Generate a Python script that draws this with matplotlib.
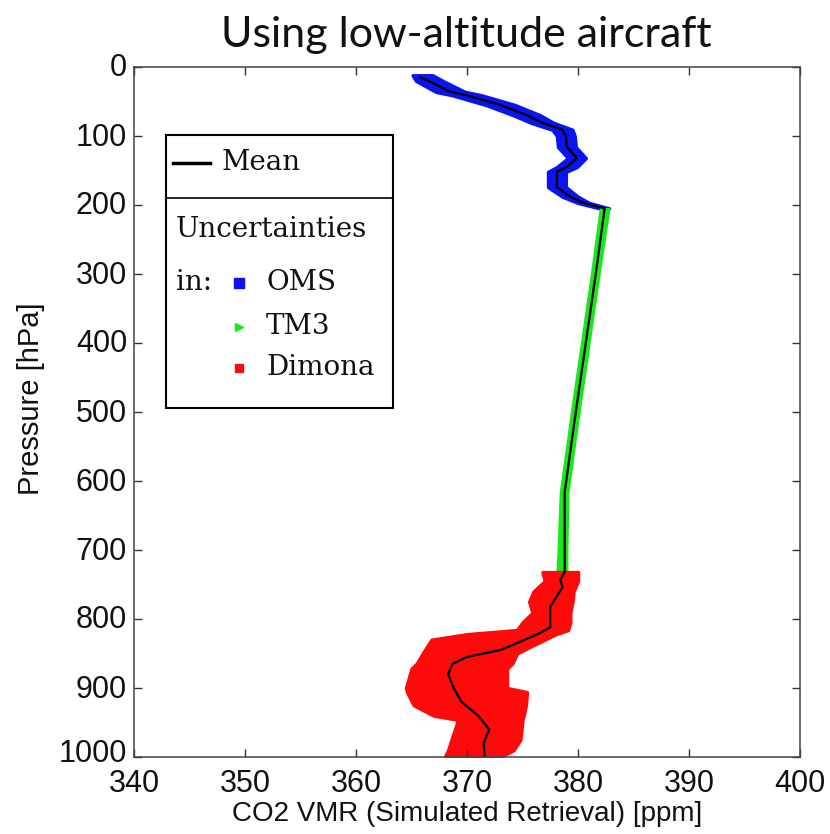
import numpy as np
import matplotlib
matplotlib.use("Agg")
import matplotlib.pyplot as plt
from matplotlib.patches import Rectangle
from matplotlib.lines import Line2D
from matplotlib.transforms import ScaledTranslation

# mean retrieved CO2 profile (pressure in hPa, VMR in ppm)
mean_p = [15, 20, 36, 41, 55, 70, 81, 91, 100, 116, 132, 145, 152, 174, 188, 197, 205,
          300, 400, 500, 616, 700, 732, 743, 754, 782, 812, 820, 833, 845, 855, 865,
          880, 900, 920, 940, 960, 980, 1000]
mean_x = [365.8, 366.5, 368.5, 370.0, 373.0, 375.4, 376.8, 378.6, 378.9, 379.0, 379.9,
          379.0, 378.1, 378.1, 379.3, 380.5, 382.4, 381.6, 380.7, 379.8, 378.8, 378.8,
          378.8, 378.4, 378.6, 377.5, 377.5, 376.6, 374.8, 373.0, 370.0, 368.7, 368.3,
          368.8, 369.5, 371.0, 372.0, 371.5, 371.6]

# OMS uncertainty envelope
oms_p = [12, 20, 36, 41, 55, 70, 81, 91, 100, 116, 132, 145, 152, 174, 188, 197, 205]
oms_lo = [365.1, 365.4, 367.2, 368.7, 371.7, 374.2, 375.8, 377.7, 378.1, 378.2, 379.1,
          378.1, 377.3, 377.3, 378.6, 380.0, 382.0]
oms_hi = [366.9, 367.8, 369.8, 371.3, 374.3, 376.6, 377.8, 379.5, 379.7, 379.8, 380.7,
          379.9, 378.9, 378.9, 380.0, 381.0, 382.8]

# TM3 uncertainty envelope
tm3_p = [205, 300, 400, 500, 616, 700, 735]
tm3_lo = [382.0, 381.2, 380.3, 379.4, 378.4, 378.2, 378.1]
tm3_hi = [382.8, 381.9, 381.0, 380.1, 379.1, 379.0, 379.0]

# Dimona uncertainty envelope
dim_p = [732, 745, 760, 775, 791, 805, 816, 822, 830, 840, 850, 864, 872, 900, 906,
         925, 940, 946, 975, 990, 1000]
dim_lo = [376.8, 377.0, 376.0, 375.6, 375.9, 375.0, 374.5, 370.0, 366.8, 366.4, 366.0,
          365.5, 365.0, 364.5, 364.6, 365.2, 367.0, 369.2, 368.6, 368.3, 368.0]
dim_hi = [380.0, 380.0, 379.6, 379.5, 379.3, 379.3, 379.1, 378.0, 377.0, 375.7, 374.5,
          374.1, 373.6, 373.6, 375.4, 375.3, 375.1, 375.0, 374.8, 374.2, 373.0]

x_ticks = [340, 350, 360, 370, 380, 390, 400]
y_ticks = [0, 100, 200, 300, 400, 500, 600, 700, 800, 900, 1000]

W, H = 830, 834
fig = plt.figure(figsize=(W / 100, H / 100), dpi=100)
ax = fig.add_axes([134 / W, 1 - 757 / H, (800 - 134) / W, (757 - 67) / H])

sans = "Liberation Sans"
serif = "DejaVu Serif"

ax.fill_betweenx(oms_p, oms_lo, oms_hi, color="#0a14f0", lw=2.5, edgecolor="#0a14f0")
ax.fill_betweenx(tm3_p, tm3_lo, tm3_hi, color="#18e818", lw=1.5, edgecolor="#18e818")
ax.fill_betweenx(dim_p, dim_lo, dim_hi, color="#ff0a0a", lw=2.5, edgecolor="#ff0a0a")
ax.plot(mean_x, mean_p, color="black", lw=1.6)

ax.set_xlim(340, 400)
ax.set_ylim(1000, 0)
ax.set_xticks(x_ticks)
ax.set_yticks(y_ticks)
ax.tick_params(direction="in", length=6, width=1, top=True, right=True,
               labelsize=22, colors="#333333", labelcolor="#111111")
ax.tick_params(axis="x", pad=9)
ax.tick_params(axis="y", pad=5)
for lab in ax.get_xticklabels() + ax.get_yticklabels():
    lab.set_family(sans)
# lift the y labels a touch, the bottom one more so it clears "340"
ylabs = ax.get_yticklabels()
for i, lab in enumerate(ylabs):
    dy = 7 if i == len(ylabs) - 1 else 2
    lab.set_transform(lab.get_transform() + ScaledTranslation(0, dy / 100, fig.dpi_scale_trans))
for s in ax.spines.values():
    s.set_color("#444444")
    s.set_linewidth(1.1)

ax.set_xlabel("CO2 VMR (Simulated Retrieval) [ppm]", family=sans, fontsize=20,
              color="#111111")
ax.set_ylabel("Pressure [hPa]", family=sans, fontsize=21, color="#111111")
ax.xaxis.set_label_coords(0.5, -0.064)
ax.yaxis.set_label_coords(-0.134, 0.519)

fig.text(466 / W, 1 - 35 / H, "Using low-altitude aircraft", family="Lato",
         fontsize=31, ha="center", va="center", color="#111111")


# legend box drawn in figure pixel coordinates
def fx(x):
    return x / W


def fy(y):
    return 1 - y / H


fig.patches.append(Rectangle((fx(166), fy(408)), fx(393) - fx(166), fy(135) - fy(408),
                             transform=fig.transFigure, fill=False, lw=1.5,
                             edgecolor="black", zorder=5))
fig.lines.append(Line2D([fx(166), fx(393)], [fy(198), fy(198)], transform=fig.transFigure,
                        color="black", lw=1.2, zorder=5))
fig.lines.append(Line2D([fx(173), fx(210)], [fy(163), fy(163)], transform=fig.transFigure,
                        color="black", lw=2.5, zorder=5))

leg_kw = dict(family=serif, fontsize=20, va="center", ha="left", color="#111111")
fig.text(fx(222), fy(163), "Mean", **leg_kw)
fig.text(fx(176), fy(229), "Uncertainties", **leg_kw)
fig.text(fx(176), fy(282), "in:", **leg_kw)
fig.text(fx(266), fy(283), "OMS", **leg_kw)
fig.text(fx(266), fy(327), "TM3", **leg_kw)
fig.text(fx(266), fy(368), "Dimona", **leg_kw)

for y, c, m, ms in [(283, "#0a14f0", "s", 7), (327, "#18e818", ">", 6),
                    (368, "#ff0a0a", "s", 6)]:
    fig.lines.append(Line2D([fx(239)], [fy(y)], transform=fig.transFigure, marker=m,
                            markersize=ms, color=c, lw=0, zorder=5))

fig.savefig("out.png", dpi=100)
